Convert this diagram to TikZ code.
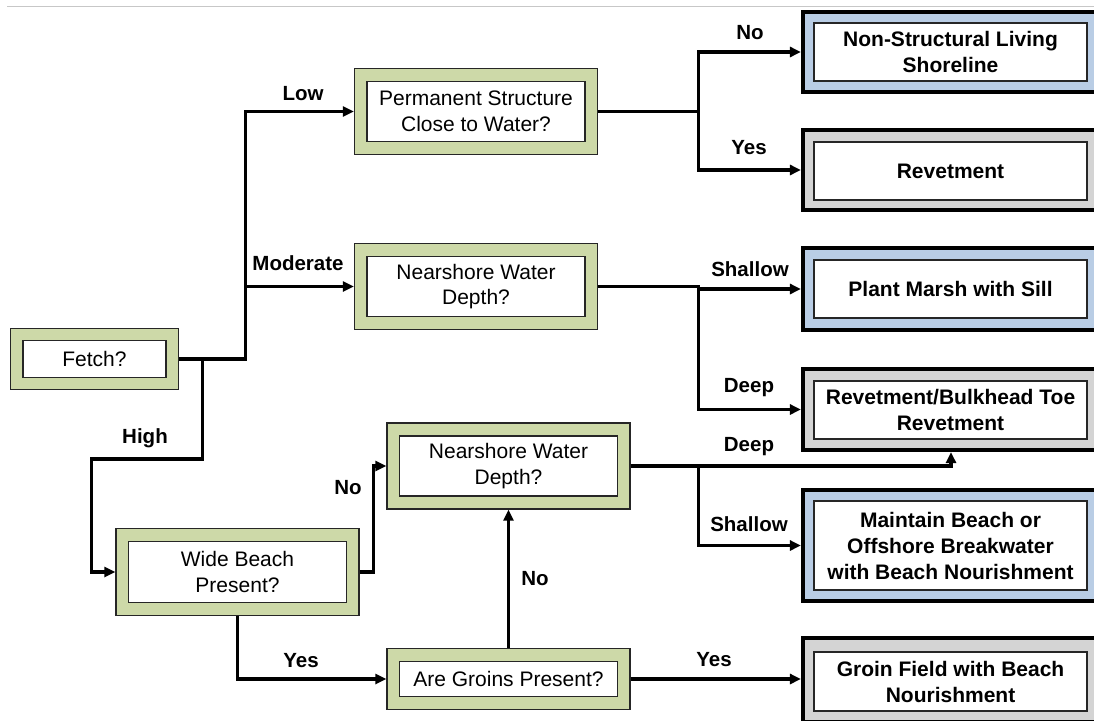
\documentclass[tikz,border=0pt]{standalone}
\usepackage{fontspec}
\setmainfont{Liberation Sans}
\usetikzlibrary{arrows.meta,positioning,calc}
\definecolor{qgreen}{RGB}{205,217,168}
\definecolor{rblue}{RGB}{185,205,229}
\definecolor{rgray}{RGB}{212,212,212}

\begin{document}
\begin{tikzpicture}[
  x=1pt, y=-1pt,
  every node/.style={inner sep=0pt},
  qbox/.style={draw=black!85, line width=1.3pt, fill=qgreen, minimum width=243pt, minimum height=86pt},
  qtext/.style={draw=black!85, line width=1.1pt, fill=white, align=center, minimum width=218pt, minimum height=60pt, font=\fontsize{21}{25.5}\selectfont},
  rbox/.style={draw=black, line width=4.2pt, minimum width=296pt, minimum height=80pt},
  rtext/.style={draw=black!85, line width=1.1pt, fill=white, align=center, minimum width=273pt, minimum height=58pt, font=\bfseries\fontsize{21}{26}\selectfont},
  lbl/.style={font=\bfseries\fontsize{20.5}{24}\selectfont},
  arr/.style={-{Triangle[length=11pt,width=10pt]}, line width=3.2pt}
]
\useasboundingbox (0,0) rectangle (1094,720);
\draw[black!22, line width=1.5pt] (7,6.5) -- (1094,6.5);

% questions
\node[qbox, minimum width=168pt, minimum height=61pt] (fetch) at (94.5,359) {};
\node[qtext, minimum width=143pt, minimum height=37pt] (fetch-t) at (fetch) {Fetch?};
\node[qbox] (perm) at (476,111.5) {};
\node[qtext] (perm-t) at (perm) {Permanent Structure\\Close to Water?};
\node[qbox] (depthA) at (476,286.5) {};
\node[qtext] (depthA-t) at (depthA) {Nearshore Water\\Depth?};
\node[qbox] (depthB) at (508.5,466) {};
\node[qtext] (depthB-t) at (depthB) {Nearshore Water\\Depth?};
\node[qbox, minimum height=87pt] (wide) at (237.5,572) {};
\node[qtext, minimum height=61pt] (wide-t) at (wide) {Wide Beach\\Present?};
\node[qbox, minimum height=61pt] (groins) at (508.5,679) {};
\node[qtext, minimum height=35pt] (groins-t) at (groins) {Are Groins Present?};

% outcomes
\node[rbox, fill=rblue] (living) at (951,52) {};
\node[rtext] (living-t) at (950.5,52) {Non-Structural Living\\Shoreline};
\node[rbox, fill=rgray] (revet) at (951,170) {};
\node[rtext] (revet-t) at (950.5,171) {Revetment};
\node[rbox, fill=rblue, minimum height=82pt] (marsh) at (951,289) {};
\node[rtext] (marsh-t) at (950.5,289) {Plant Marsh with Sill};
\node[rbox, fill=rgray, minimum height=81pt] (bulk) at (951,409.5) {};
\node[rtext] (bulk-t) at (950.5,410) {Revetment/Bulkhead Toe\\Revetment};
\node[rbox, fill=rblue, minimum height=111pt] (beach) at (951,545.5) {};
\node[rtext, minimum height=89pt] (beach-t) at (950.5,545.5) {Maintain Beach or\\Offshore Breakwater\\with Beach Nourishment};
\node[rbox, fill=rgray, minimum height=84pt] (field) at (951,680) {};
\node[rtext, minimum height=59pt] (field-t) at (950.5,681.5) {Groin Field with Beach\\Nourishment};

% branch labels
\node[lbl] (lowLbl) at (303,94) {Low};
\node[lbl] (modLbl) at (298,263) {Moderate};
\node[lbl] (highLbl) at (145,438) {High};
\node[lbl] (noA) at (750,33) {No};
\node[lbl] (yesA) at (749,148) {Yes};
\node[lbl] (shallowA) at (750,269) {Shallow};
\node[lbl] (deepA) at (749,388) {Deep};
\node[lbl] (deepB) at (749,447) {Deep};
\node[lbl] (shallowB) at (749,524) {Shallow};
\node[lbl] (noB) at (348,488) {No};
\node[lbl] (yesB) at (301,661) {Yes};
\node[lbl] (noC) at (535,579) {No};
\node[lbl] (yesC) at (714,660) {Yes};

\draw[arr] (fetch.east) -- ++(66,0) |- (perm.west);
\draw[arr] (fetch.east) -- ++(66,0) |- (depthA.west);
\draw[arr] (fetch.east) -| ++(23,100) -| ([xshift=-24pt]wide.west) -- (wide.west);
\draw[arr] (perm.east) -- ++(100,0) |- (living.west);
\draw[arr] (perm.east) -- ++(100,0) |- (revet.west);
\draw[arr] (depthA.east) -- ++(100,0) |- (marsh.west);
\draw[arr] (depthA.east) -- ++(100,0) |- (bulk.west);
\draw[arr] (depthB.east) -| (bulk.south);
\draw[arr] (depthB.east) -- ++(68,0) |- (beach.west);
\draw[arr] (wide.east) -- ++(14,0) |- (depthB.west);
\draw[arr] (wide.south) |- (groins.west);
\draw[arr] (groins.north) -- (depthB.south);
\draw[arr] (groins.east) -- (groins.east -| field.west);
\end{tikzpicture}
\end{document}
